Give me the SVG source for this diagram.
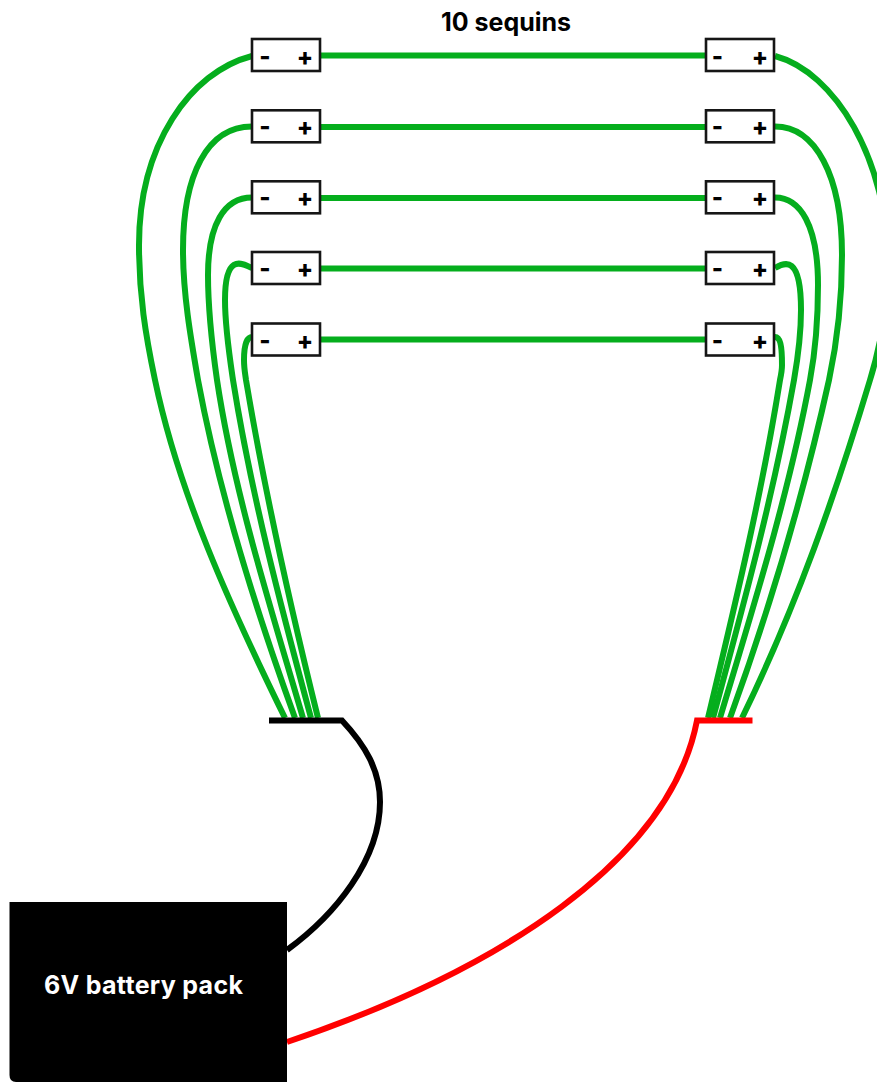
<svg xmlns="http://www.w3.org/2000/svg" width="877" height="1082" viewBox="0 0 877 1082">
<style>
.g{fill:none;stroke:#05ae1d;stroke-width:6}
.k{fill:none;stroke:#000;stroke-width:6}
.r{fill:none;stroke:#f00;stroke-width:6}
.b{fill:#fff;stroke:#161616;stroke-width:2.6}
.s{font-family:"Inter","Liberation Sans",sans-serif;font-weight:800;fill:#000}
.p{font-size:24px;text-anchor:middle}
.t{font-size:25px;font-weight:700}
</style>
<rect width="877" height="1082" fill="#fff"/>
<g id="connectors">
<path class="g" d="M320 55.500H705M320 127H705M320 198H705M320 268.500H705M320 339.500H705"/>
<path class="g" d="M252 56C190 72 139 145 139 245C139 295 145.500 335 155 380C178.700 493 229.600 605 285 718"/>
<path class="g" d="M252 126.500C207 126.500 183 175 183 250C183 293 190.500 337 198 380C219 493 254 605 295 718"/>
<path class="g" d="M252 197.500C224 197.500 208 225 208 275C208 310 212 345 217 380C234 493 270 605 303 718"/>
<path class="g" d="M252 268C240 262 225 255 225 300C225 327 229 353 233 380C251 493 280.500 605 311 718"/>
<path class="g" d="M252 337C248 337 244 342 244 360C244 368 245 373 246 380C265 493 290 605 318 718"/>
<path class="g" d="M775 56C835 72 888 160 888 265C888 303 881.500 342 870 380C836 493 797 605 742 718"/>
<path class="g" d="M775 126.500C815 126.500 842 175 842 255C842 297 838 338 829 380C804 493 771 605 730 718"/>
<path class="g" d="M775 197.500C800 197.500 818 225 818 285C818 317 816 348 810 380C789 493 754 605 720 718"/>
<path class="g" d="M775 268C785 262 801 255 801 310C801 333 798 357 794 380C774 493 743.500 605 713 718"/>
<path class="g" d="M775 337C780 337 782 345 782 365C782 370 781.500 373 780 380C762 493 735 605 708 718"/>
<path class="k" d="M269 720.500H342C365 745 380 770 380 802C380 860 335 915 287 950"/>
<path class="r" d="M752.500 720.500H697C670 860 500 970 287 1042"/>
</g>
<g id="seq-l1"><rect class="b" x="252" y="39" width="68" height="32"/><text class="s p" x="265" y="64.500">-</text><text class="s p" x="305" y="64.500">+</text></g>
<g id="seq-l2"><rect class="b" x="252" y="110.300" width="68" height="32"/><text class="s p" x="265" y="134.500">-</text><text class="s p" x="305" y="134.500">+</text></g>
<g id="seq-l3"><rect class="b" x="252" y="181.300" width="68" height="32"/><text class="s p" x="265" y="206">-</text><text class="s p" x="305" y="206">+</text></g>
<g id="seq-l4"><rect class="b" x="252" y="252" width="68" height="32"/><text class="s p" x="265" y="277">-</text><text class="s p" x="305" y="277">+</text></g>
<g id="seq-l5"><rect class="b" x="252" y="323.500" width="68" height="32"/><text class="s p" x="265" y="348.500">-</text><text class="s p" x="305" y="348.500">+</text></g>
<g id="seq-r1"><rect class="b" x="706" y="39" width="68" height="32"/><text class="s p" x="717.300" y="64.500">-</text><text class="s p" x="760" y="64.500">+</text></g>
<g id="seq-r2"><rect class="b" x="706" y="110.300" width="68" height="32"/><text class="s p" x="717.300" y="134.500">-</text><text class="s p" x="760" y="134.500">+</text></g>
<g id="seq-r3"><rect class="b" x="706" y="181.300" width="68" height="32"/><text class="s p" x="717.300" y="206">-</text><text class="s p" x="760" y="206">+</text></g>
<g id="seq-r4"><rect class="b" x="706" y="252" width="68" height="32"/><text class="s p" x="717.300" y="277">-</text><text class="s p" x="760" y="277">+</text></g>
<g id="seq-r5"><rect class="b" x="706" y="323.500" width="68" height="32"/><text class="s p" x="717.300" y="348.500">-</text><text class="s p" x="760" y="348.500">+</text></g>
<g id="title"><text class="s t" x="441" y="30.500">10 sequins</text></g>
<g id="battery"><path d="M9.500 902H287V1082H16Q9.500 1082 9.500 1075Z" fill="#000"/><text class="s t" x="44" y="993.500" letter-spacing="0.300" style="fill:#fff">6V battery pack</text></g>
</svg>
